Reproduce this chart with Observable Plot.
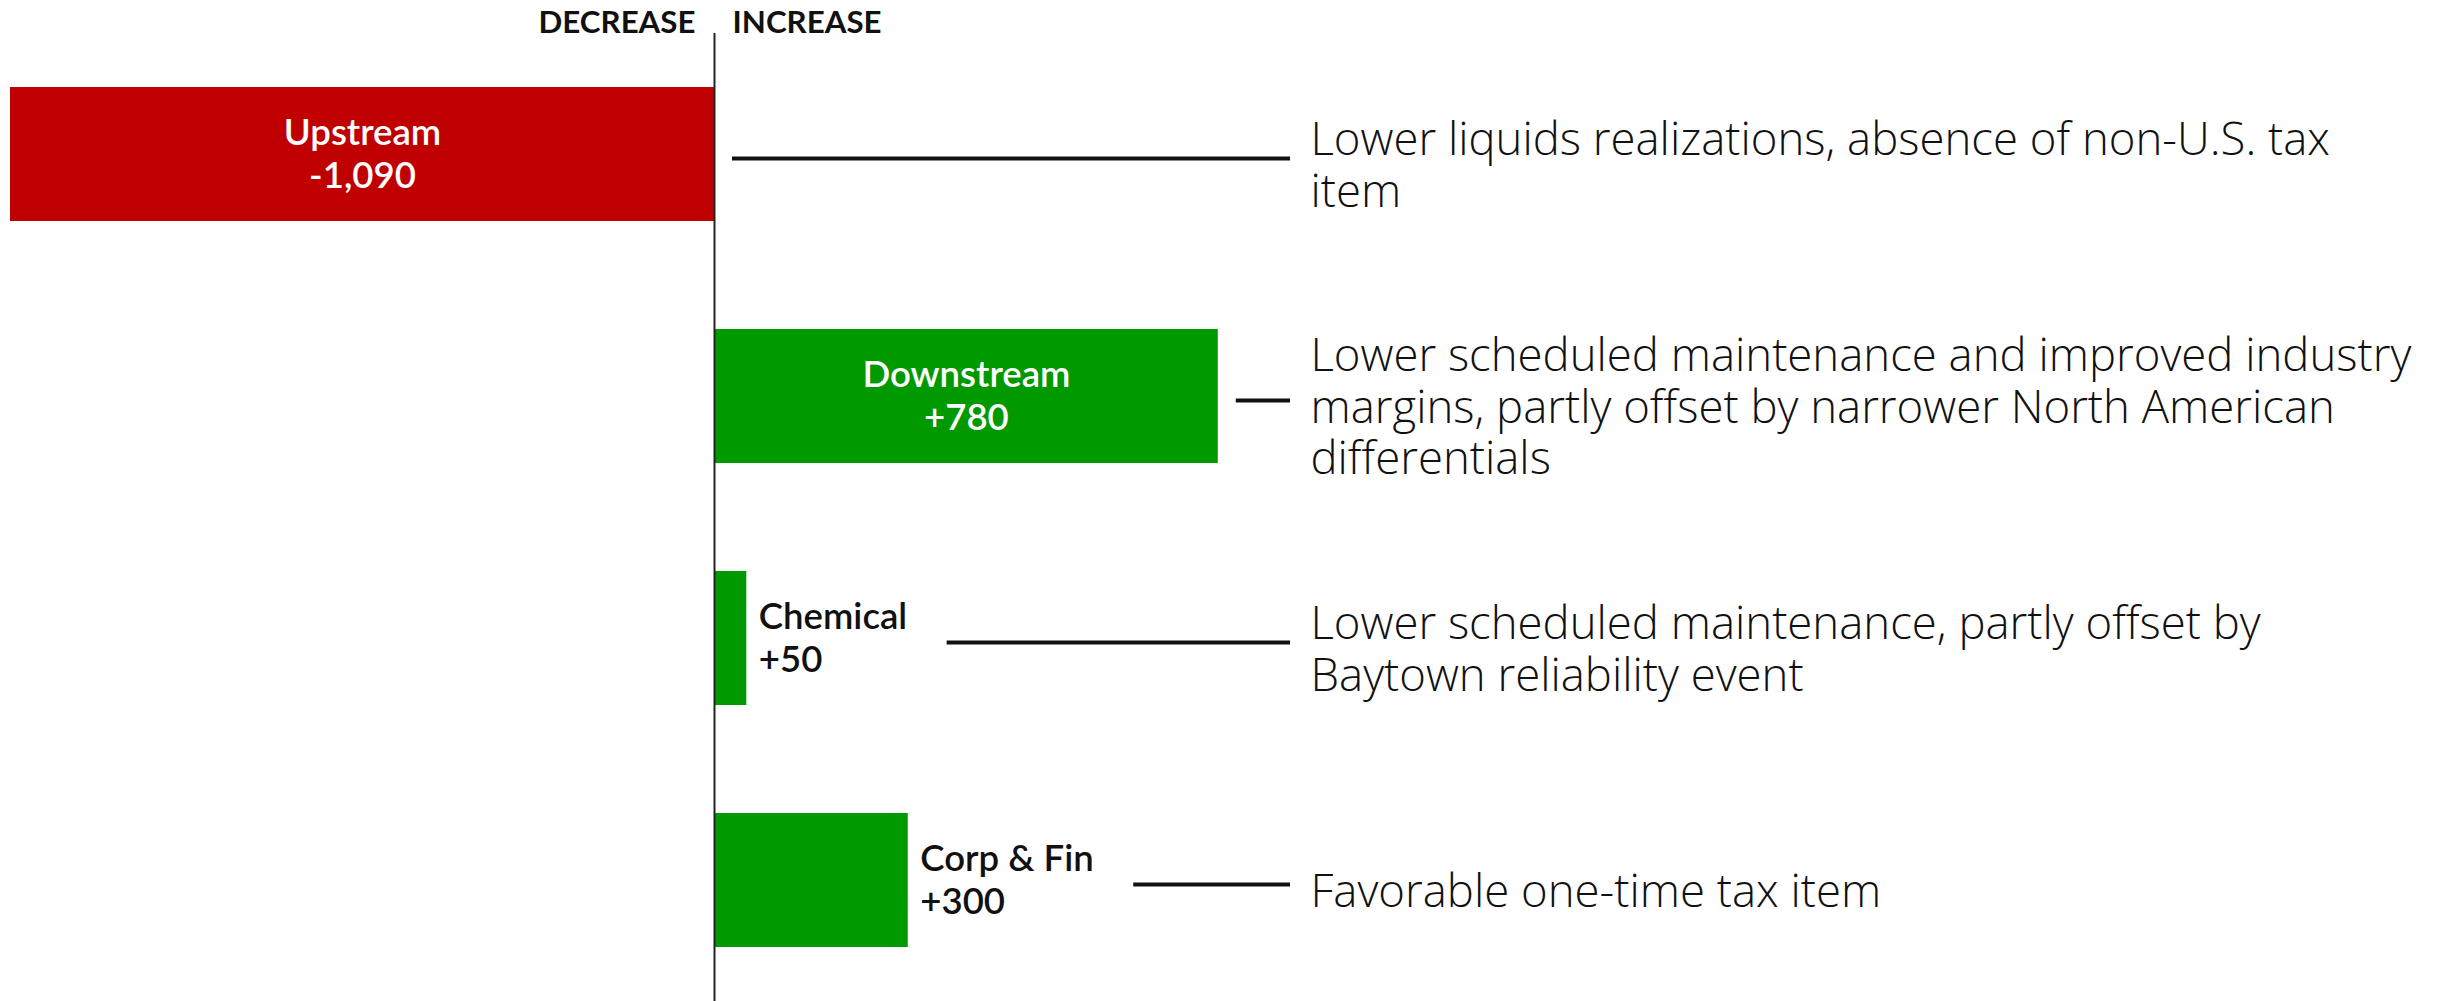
<!DOCTYPE html>
<html>
<head>
<meta charset="utf-8">
<script src="https://cdn.jsdelivr.net/npm/d3@7"></script>
<script src="https://cdn.jsdelivr.net/npm/@observablehq/plot@0.6"></script>
<style>
  html, body { margin: 0; padding: 0; background: #fff; overflow: hidden; }
  #chart svg { display: block; }
</style>
</head>
<body>
<div id="chart"></div>
<script>
// ---- data ----
const categories = ["Upstream", "Downstream", "Chemical", "Corp & Fin"];
const values = [-1090, 780, 50, 300];
const notes = [
  "Lower liquids realizations, absence of non-U.S. tax\nitem",
  "Lower scheduled maintenance and improved industry\nmargins, partly offset by narrower North American\ndifferentials",
  "Lower scheduled maintenance, partly offset by\nBaytown reliability event",
  "Favorable one-time tax item"
];
const headers = ["DECREASE", "INCREASE"];

// ---- style / layout ----
const W = 2443, H = 1001;
const RED = "#C00000", GREEN = "#009900", INK = "#111111";
const FONT = "Lato, 'Open Sans', 'DejaVu Sans', sans-serif";
const NOTE_FONT = "'Open Sans', Lato, 'DejaVu Sans', sans-serif";
const marginLeft = 10, zeroPx = 714;

const ctx = document.createElement("canvas").getContext("2d");
function textWidth(str, font) {
  ctx.font = font;
  return d3.max(str.split("\n"), s => ctx.measureText(s).width);
}
// fit font sizes so text widths match the reference
function fitSize(sample, weight, family, targetPx, base) {
  const w = textWidth(sample, `${weight} ${base}px ${family}`);
  const s = base * targetPx / w;
  return Math.max(base * 0.85, Math.min(base * 1.15, s));
}
const labelSize = fitSize("Downstream", 600, FONT, 208, 35);
const noteSize = fitSize("Lower scheduled maintenance and improved industry", 300, NOTE_FONT, 1101, 44);
const headSize = fitSize("DECREASE", 700, FONT, 157, 30);

const k = (zeroPx - marginLeft) / -d3.min(values); // px per unit
const xMax = (W - zeroPx) / k;
const toVal = p => (p - zeroPx) / k;                // pixel -> data value
const noteLineEnd = toVal(1290);
const noteX = toVal(1310);

const fmt = v => (v < 0 ? "-" : "+") + d3.format(",")(Math.abs(v));
const labelFont = `600 ${labelSize}px ${FONT}`;

const data = categories.map((c, i) => {
  const label = c + "\n" + fmt(values[i]);
  const lw = textWidth(label, labelFont);
  const barPx = Math.abs(values[i]) * k;
  const inside = barPx >= lw + 80;
  const lineStart = inside
    ? Math.max(values[i], 0) + 18 / k
    : values[i] + (12 + lw + 40) / k;
  return {cat: c, value: values[i], label, inside, lineStart, note: notes[i],
          sign: values[i] < 0 ? "decrease" : "increase"};
});
const headLeft = [{h: headers[0], x: 0}];
const headRight = [{h: headers[1], x: 0}];

const headOpts = {
  x: "x", text: "h", frameAnchor: "top", lineAnchor: "bottom", dy: -6.5,
  fill: INK, fontSize: headSize, fontWeight: 700, fontFamily: FONT
};

const chart = Plot.plot({
  width: W,
  height: H,
  marginTop: 38.5,
  marginBottom: 4.7,
  marginLeft: marginLeft,
  marginRight: 0,
  x: {domain: [d3.min(values), xMax], axis: null},
  y: {domain: categories, axis: null, paddingInner: 0.447, paddingOuter: 0.2},
  color: {domain: ["decrease", "increase"], range: [RED, GREEN]},
  style: {fontFamily: FONT, background: "white", overflow: "visible"},
  marks: [
    Plot.barX(data, {x: "value", y: "cat", fill: "sign"}),
    Plot.ruleX([0], {stroke: "#222", strokeWidth: 2, insetTop: -5.5, insetBottom: -5}),
    Plot.text(data.filter(d => d.inside), {
      x: d => d.value / 2, y: "cat", text: "label",
      fill: "white", fontSize: labelSize, fontWeight: 600, fontFamily: FONT,
      lineHeight: 1.17, dy: -2
    }),
    Plot.text(data.filter(d => !d.inside), {
      x: "value", y: "cat", text: "label", textAnchor: "start", dx: 12,
      fill: INK, fontSize: labelSize, fontWeight: 600, fontFamily: FONT,
      lineHeight: 1.17, dy: -2
    }),
    Plot.ruleY(data, {
      y: "cat", x1: "lineStart", x2: () => noteLineEnd,
      stroke: INK, strokeWidth: 4, dy: 4
    }),
    Plot.text(data, {
      x: () => noteX, y: "cat", text: "note", textAnchor: "start",
      fill: INK, fontSize: noteSize, fontWeight: 300, fontFamily: NOTE_FONT,
      lineHeight: 51.5 / noteSize, dy: 10
    }),
    Plot.text(headLeft, {...headOpts, textAnchor: "end", dx: -19}),
    Plot.text(headRight, {...headOpts, textAnchor: "start", dx: 18})
  ]
});

document.getElementById("chart").append(chart);
</script>
</body>
</html>
